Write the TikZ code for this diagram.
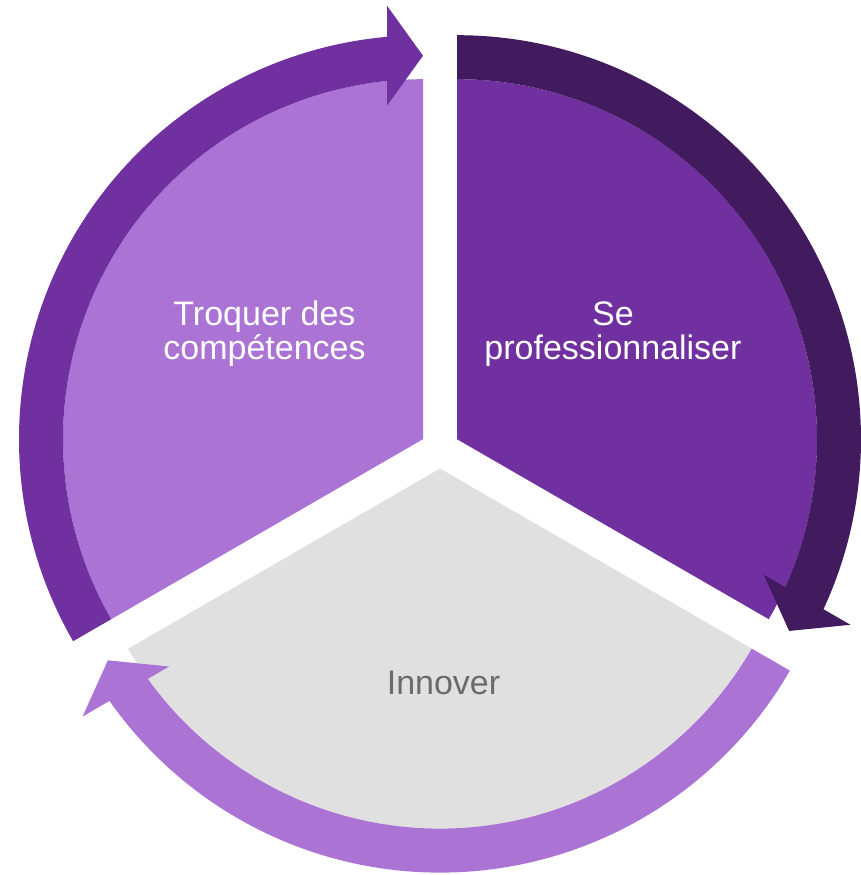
\documentclass[tikz,border=0pt]{standalone}
\usepackage{fontspec}
\setmainfont{Liberation Sans}
\definecolor{darkp}{RGB}{65,27,94}
\definecolor{midp}{HTML}{7030A0}
\definecolor{lightp}{RGB}{171,116,212}
\definecolor{greysec}{HTML}{E0E0E0}
\definecolor{greytxt}{HTML}{6B6B6B}
\newcommand\CircArrowShape[4]{%
  \begin{scope}[shift={(#2,#3)},rotate=#4]
    \fill[#1] (210:404) arc[start angle=210,end angle=95.11,radius=404]
      -- (-36,433.5) -- (0,383.5) -- (-36,333.5) -- (-36,358.2)
      arc[start angle=95.74,end angle=210,radius=360] -- cycle;
  \end{scope}}
\newcommand\SectorShape[4]{%
  \begin{scope}[shift={(#2,#3)},rotate=#4]
    \fill[#1] (0,0) -- (90:360) arc[start angle=90,end angle=210,radius=360] -- cycle;
  \end{scope}}
\begin{document}
\begin{tikzpicture}[x=1bp,y=1bp,
  lbl/.style={font=\fontsize{34bp}{34bp}\selectfont, align=center, inner sep=0pt}]
\useasboundingbox (0,0) rectangle (861,875);
\fill[white] (0,0) rectangle (861,875);
% sectors
\SectorShape{lightp}{423}{435.8}{0}
\SectorShape{midp}{457}{435.8}{-120}
\SectorShape{greysec}{440}{406.4}{120}
% circular arrows
\CircArrowShape{midp}{423}{435.8}{0}
\CircArrowShape{darkp}{457}{435.8}{-120}
\CircArrowShape{lightp}{440}{406.4}{120}
% labels
\node[lbl, text=white, anchor=base] (troquer) at (264.5,515.5) {Troquer des\\compétences};
\node[lbl, text=white, anchor=base] (pro) at (613,515.5) {Se\\professionnaliser};
\node[lbl, text=greytxt, anchor=base] (innover) at (443.5,180) {Innover};
\end{tikzpicture}
\end{document}
